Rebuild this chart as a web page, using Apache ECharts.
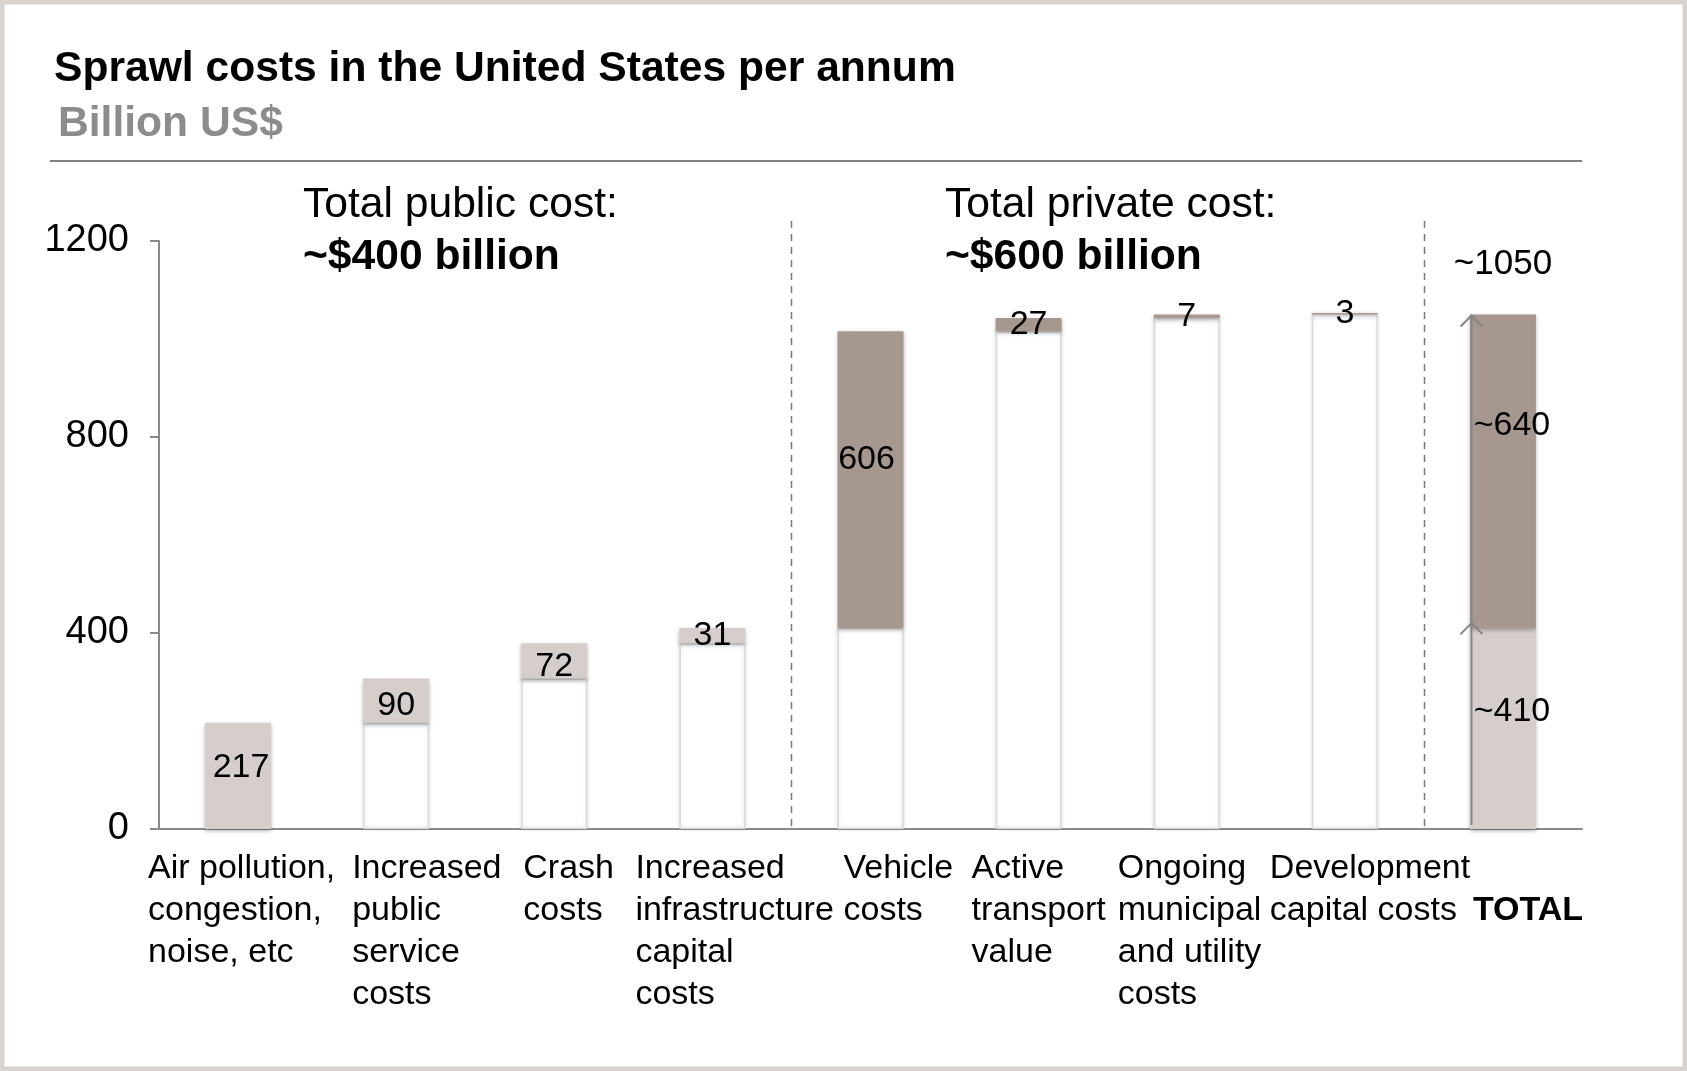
<!DOCTYPE html>
<html>
<head>
<meta charset="utf-8">
<title>Sprawl costs in the United States per annum</title>
<script src="https://cdn.jsdelivr.net/npm/echarts@6/dist/echarts.min.js"></script>
<style>
  html, body { margin: 0; padding: 0; background: #ffffff; }
  #chart { width: 1687px; height: 1071px; }
</style>
</head>
<body>
<div id="chart"></div>
<script>
// ---- Data (billion US$ per year) ----
const categories = [
  'Air pollution,\ncongestion,\nnoise, etc',
  'Increased\npublic\nservice\ncosts',
  'Crash\ncosts',
  'Increased\ninfrastructure\ncapital\ncosts',
  'Vehicle\ncosts',
  'Active\ntransport\nvalue',
  'Ongoing\nmunicipal\nand utility\ncosts',
  'Development\ncapital costs',
  'TOTAL'
];
const publicCosts = [217, 90, 72, 31];     // first four categories
const privateCosts = [606, 27, 7, 3];      // next four categories
const totalParts = [410, 640];             // rounded public / private totals
const yTicks = [0, 400, 800, 1200];
const headline = {
  title: 'Sprawl costs in the United States per annum',
  unit: 'Billion US$',
  publicLabel: 'Total public cost:',
  publicTotal: '~$400 billion',
  privateLabel: 'Total private cost:',
  privateTotal: '~$600 billion'
};

// ---- Styling / layout ----
const FONT = '"Liberation Sans", Arial, Helvetica, sans-serif';
const LIGHT = '#d6cecb';
const DARK = '#a6978f';
const AXIS_GREY = '#8a8a8a';
const BAR_W = 66;
// width of the box each category label is left-aligned in (centred on its tick)
const labelBoxWidth = [180, 88, 62, 154, 54, 114, 138, 150, 60];
// nudges for a few value labels
const labelNudge = { 0: [3, -8], 1: [0, 5], 2: [0, 6], 4: [-4, -20] };
const totalNudge = [[9, -17], [9, -46]];

// ---- Build waterfall stacks ----
const n = categories.length;
const baseData = [];
const publicData = [];
const privateData = [];
let running = 0;
for (let i = 0; i < n; i++) {
  if (i < publicCosts.length) {
    baseData.push(running === 0 ? '-' : running);
    const v = publicCosts[i];
    publicData.push(labelNudge[i] ? { value: v, label: { offset: labelNudge[i] } } : v);
    privateData.push('-');
    running += v;
  } else if (i < publicCosts.length + privateCosts.length) {
    baseData.push(running);
    const v = privateCosts[i - publicCosts.length];
    publicData.push('-');
    privateData.push(labelNudge[i] ? { value: v, label: { offset: labelNudge[i] } } : v);
    running += v;
  } else {
    baseData.push('-');
    publicData.push({ value: totalParts[0], label: { offset: totalNudge[0], formatter: '~{c}' } });
    privateData.push({ value: totalParts[1], label: { offset: totalNudge[1], formatter: '~{c}' } });
  }
}
const totalIndex = n - 1;
const grandTotal = totalParts[0] + totalParts[1];
const separatorsAfter = [publicCosts.length - 1, publicCosts.length + privateCosts.length - 1];

// rich styles for the category labels
const rich = {};
for (let i = 0; i < n; i++) {
  rich['c' + i] = {
    width: labelBoxWidth[i],
    align: 'left',
    fontSize: 34,
    lineHeight: 42,
    color: '#000',
    fontFamily: FONT,
    fontWeight: i === totalIndex ? 'bold' : 'normal'
  };
}

const valueLabel = {
  show: true,
  position: 'inside',
  color: '#000',
  fontSize: 34,
  fontFamily: FONT
};

const chart = echarts.init(document.getElementById('chart'), null, { renderer: 'canvas' });

const option = {
  backgroundColor: '#ffffff',
  animation: false,
  textStyle: { fontFamily: FONT },
  grid: { left: 159, right: 105, top: 241, bottom: 242, containLabel: false },
  xAxis: {
    type: 'category',
    data: categories,
    axisLine: { lineStyle: { color: AXIS_GREY, width: 2 } },
    axisTick: { show: false },
    axisLabel: {
      interval: 0,
      margin: 19,
      formatter: function (value, idx) {
        const lines = value.split('\n').map(l => '{c' + idx + '|' + l + '}');
        if (idx === totalIndex) lines.unshift('{c' + idx + '| }');
        return lines.join('\n');
      },
      rich: rich
    }
  },
  yAxis: {
    type: 'value',
    min: yTicks[0],
    max: yTicks[yTicks.length - 1],
    interval: yTicks[1] - yTicks[0],
    axisLine: { show: true, lineStyle: { color: AXIS_GREY, width: 2 } },
    axisTick: { show: true, length: 9, lineStyle: { color: AXIS_GREY, width: 2 } },
    splitLine: { show: false },
    axisLabel: {
      margin: 30, color: '#000', fontSize: 38, fontFamily: FONT,
      formatter: function (v) { return String(v); }
    }
  },
  series: [
    {
      name: 'base',
      type: 'bar',
      stack: 'w',
      barWidth: BAR_W,
      data: baseData,
      itemStyle: {
        color: '#ffffff',
        borderColor: '#dadada',
        borderWidth: 1.5,
        shadowColor: 'rgba(0,0,0,0.12)',
        shadowBlur: 4
      },
      emphasis: { disabled: true },
      silent: true,
      z: 2
    },
    {
      name: 'public',
      type: 'bar',
      stack: 'w',
      barWidth: BAR_W,
      data: publicData,
      itemStyle: {
        color: LIGHT,
        shadowColor: 'rgba(0,0,0,0.28)',
        shadowBlur: 4,
        shadowOffsetY: 2
      },
      label: valueLabel,
      emphasis: { disabled: true },
      z: 3
    },
    {
      name: 'private',
      type: 'bar',
      stack: 'w',
      barWidth: BAR_W,
      data: privateData,
      itemStyle: {
        color: DARK,
        shadowColor: 'rgba(0,0,0,0.28)',
        shadowBlur: 4,
        shadowOffsetY: 2
      },
      label: valueLabel,
      emphasis: { disabled: true },
      z: 3
    },
    {
      // dashed dividers between the public, private and total groups
      name: 'dividers',
      type: 'custom',
      silent: true,
      clip: false,
      z: 1,
      data: separatorsAfter.map(i => [i]),
      renderItem: function (params, api) {
        const i = api.value(0);
        const x = Math.round(api.coord([i, 0])[0] + api.size([1, 0])[0] / 2) + 0.5;
        const y0 = api.coord([i, 0])[1];
        const y1 = api.coord([i, yTicks[yTicks.length - 1]])[1] - 20;
        return {
          type: 'line',
          shape: { x1: x, y1: y1, x2: x, y2: y0 },
          style: { stroke: '#7a7a7a', lineWidth: 1.5, lineDash: [7, 6] }
        };
      }
    },
    {
      // arrows and grand total over the TOTAL bar
      name: 'total arrows',
      type: 'custom',
      silent: true,
      clip: false,
      z: 5,
      data: [[totalIndex, totalParts[0], grandTotal]],
      renderItem: function (params, api) {
        const c = api.coord([api.value(0), 0]);
        const x = Math.round(c[0] - BAR_W / 2) + 1.5;
        const yBase = c[1];
        const yMid = api.coord([api.value(0), api.value(1)])[1];
        const yTop = api.coord([api.value(0), api.value(2)])[1];
        const stroke = { stroke: '#858585', lineWidth: 2, fill: null };
        const chevron = (y) => ({
          type: 'polyline',
          shape: { points: [[x - 11, y + 12], [x, y + 1], [x + 11, y + 12]] },
          style: stroke
        });
        return {
          type: 'group',
          children: [
            { type: 'line', shape: { x1: x, y1: yBase - 4, x2: x, y2: yTop + 1 }, style: stroke },
            chevron(yMid - 6),
            chevron(yTop),
            {
              type: 'text',
              style: {
                text: '~' + api.value(2),
                x: c[0],
                y: yTop - 50,
                align: 'center',
                verticalAlign: 'middle',
                fontSize: 35,
                fontFamily: FONT,
                fill: '#000'
              }
            }
          ]
        };
      }
    }
  ],
  graphic: [
    {
      type: 'rect',
      silent: true,
      shape: { x: 0, y: 0, width: 1687, height: 1071 },
      style: { fill: null, stroke: '#d9d3cf', lineWidth: 9 },
      z: 100
    },
    {
      type: 'text', left: 54, top: 48, silent: true,
      style: { text: headline.title, fontSize: 42.6, fontWeight: 'bold', fill: '#000', fontFamily: FONT }
    },
    {
      type: 'text', left: 58, top: 103, silent: true,
      style: { text: headline.unit, fontSize: 42.6, fontWeight: 'bold', fill: '#8c8c8c', fontFamily: FONT }
    },
    {
      type: 'line', silent: true,
      shape: { x1: 50, y1: 161, x2: 1582, y2: 161 },
      style: { stroke: '#808080', lineWidth: 2 }
    },
    {
      type: 'text', left: 303, top: 184, silent: true,
      style: { text: headline.publicLabel, fontSize: 42.6, fill: '#000', fontFamily: FONT }
    },
    {
      type: 'text', left: 303, top: 236, silent: true,
      style: { text: headline.publicTotal, fontSize: 42.6, fontWeight: 'bold', fill: '#000', fontFamily: FONT }
    },
    {
      type: 'text', left: 945, top: 184, silent: true,
      style: { text: headline.privateLabel, fontSize: 42.6, fill: '#000', fontFamily: FONT }
    },
    {
      type: 'text', left: 945, top: 236, silent: true,
      style: { text: headline.privateTotal, fontSize: 42.6, fontWeight: 'bold', fill: '#000', fontFamily: FONT }
    }
  ]
};

chart.setOption(option);
</script>
</body>
</html>
